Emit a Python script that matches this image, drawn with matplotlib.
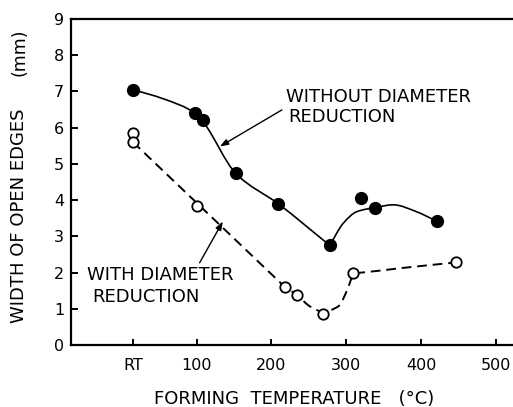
#!/usr/bin/env python3
"""Width of open edges vs forming temperature, with/without diameter reduction."""

import matplotlib

matplotlib.use("Agg")
import matplotlib.pyplot as plt
import numpy as np
from matplotlib.path import Path
from matplotlib.patches import PathPatch

RT = 15  # room temperature position on the axis

# measured points
without_x = [RT, 98, 108, 153, 209, 278, 320, 339, 422]
without_y = [7.05, 6.4, 6.2, 4.75, 3.9, 2.75, 4.05, 3.78, 3.43]
with_x = [RT, RT, 100, 218, 234, 269, 309, 447]
with_y = [5.85, 5.6, 3.85, 1.6, 1.38, 0.86, 1.98, 2.28]

# hand-drawn guide curves (knots), split where the curve has a corner
without_curve_a_x = [RT, 55, 98, 108, 153, 209, 278]
without_curve_a_y = [7.05, 6.8, 6.4, 6.18, 4.72, 3.9, 2.75]
without_curve_b_x = [278, 296, 314, 340, 363, 394, 418]
without_curve_b_y = [2.75, 3.36, 3.68, 3.80, 3.87, 3.68, 3.45]

with_curve_a_x = [RT, 218]
with_curve_a_y = [5.6, 1.6]
with_curve_b_x = [218, 234, 252, 269, 289, 303, 309]
with_curve_b_y = [1.6, 1.38, 1.06, 0.92, 1.06, 1.61, 1.98]
with_curve_c_x = [309, 321, 372, 447]
with_curve_c_y = [1.98, 2.0, 2.12, 2.28]

x_ticks = [RT, 100, 200, 300, 400, 500]
x_tick_labels = ["RT", "100", "200", "300", "400", "500"]
y_ticks = list(range(10))


def pchip_slopes(x, y):
    h = np.diff(x)
    d = np.diff(y) / h
    m = np.empty_like(y)
    m[0], m[-1] = d[0], d[-1]
    for k in range(1, len(x) - 1):
        if d[k - 1] * d[k] <= 0:
            m[k] = 0.0
        else:
            w1 = 2 * h[k] + h[k - 1]
            w2 = h[k] + 2 * h[k - 1]
            m[k] = (w1 + w2) / (w1 / d[k - 1] + w2 / d[k])
    return m


def smooth_path(pieces):
    """Hermite (pchip) curve through each piece as Bezier segments, joined into one path."""
    verts, codes = [], []
    for k, (xs, ys) in enumerate(pieces):
        x = np.asarray(xs, float)
        y = np.asarray(ys, float)
        if k == 0:
            verts.append((x[0], y[0]))
            codes.append(Path.MOVETO)
        if len(x) == 2:
            verts.append((x[1], y[1]))
            codes.append(Path.LINETO)
            continue
        m = pchip_slopes(x, y)
        for i in range(len(x) - 1):
            dx = (x[i + 1] - x[i]) / 3.0
            verts += [(x[i] + dx, y[i] + m[i] * dx), (x[i + 1] - dx, y[i + 1] - m[i + 1] * dx), (x[i + 1], y[i + 1])]
            codes += [Path.CURVE4] * 3
    return Path(verts, codes)


plt.rcParams.update({"font.family": "DejaVu Sans", "text.color": "black"})

fig = plt.figure(figsize=(5.13, 4.07), dpi=100)
ax = fig.add_axes([71 / 513, 62 / 407, 442 / 513, 326 / 407])

solid = smooth_path([(without_curve_a_x, without_curve_a_y), (without_curve_b_x, without_curve_b_y)])
ax.add_patch(PathPatch(solid, facecolor="none", edgecolor="black", linewidth=1.2, zorder=2))

dashed = smooth_path(
    [(with_curve_a_x, with_curve_a_y), (with_curve_b_x, with_curve_b_y), (with_curve_c_x, with_curve_c_y)]
)
ax.add_patch(
    PathPatch(dashed, facecolor="none", edgecolor="black", linewidth=1.4, linestyle=(0, (5, 3)), zorder=2)
)

ax.plot(without_x, without_y, "o", color="black", markersize=8.5, zorder=3)
ax.plot(with_x, with_y, "o", markerfacecolor="white", markeredgecolor="black",
        markeredgewidth=1.3, markersize=7.5, zorder=3)

txt = dict(fontsize=13, ha="left", va="center")
ax.text(219, 6.86, "WITHOUT DIAMETER", **txt)
ax.text(222, 6.29, "REDUCTION", **txt)
ax.text(-47, 1.93, "WITH DIAMETER", **txt)
ax.text(-40, 1.33, "REDUCTION", **txt)

arrow = dict(arrowstyle="-|>,head_length=0.5,head_width=0.18", color="black", linewidth=1.0,
             shrinkA=0, shrinkB=0)
ax.annotate("", xy=(131, 5.48), xytext=(214, 6.49), arrowprops=arrow)
ax.annotate("", xy=(135, 3.41), xytext=(104, 2.27), arrowprops=arrow)

ax.set_xlim(-68, 523)
ax.set_ylim(0, 9)
ax.set_xticks(x_ticks, x_tick_labels)
ax.set_yticks(y_ticks)
ax.spines["right"].set_visible(False)
for side in ("left", "top", "bottom"):
    ax.spines[side].set_linewidth(1.6)
ax.tick_params(axis="both", direction="in", width=1.4, labelsize=11.5)
ax.tick_params(axis="y", length=5, pad=5)
ax.tick_params(axis="x", length=4.5, pad=9)

fig.text(294 / 513, 1 - 399 / 407, "FORMING  TEMPERATURE   (°C)", fontsize=13, ha="center", va="center")
fig.text(19 / 513, 1 - 216 / 407, "WIDTH OF OPEN EDGES", fontsize=13, rotation=90, ha="center", va="center")
fig.text(19 / 513, 1 - 52 / 407, "(mm)", fontsize=12.5, rotation=90, ha="center", va="center")

fig.savefig("out.png", dpi=100)
plt.close(fig)
